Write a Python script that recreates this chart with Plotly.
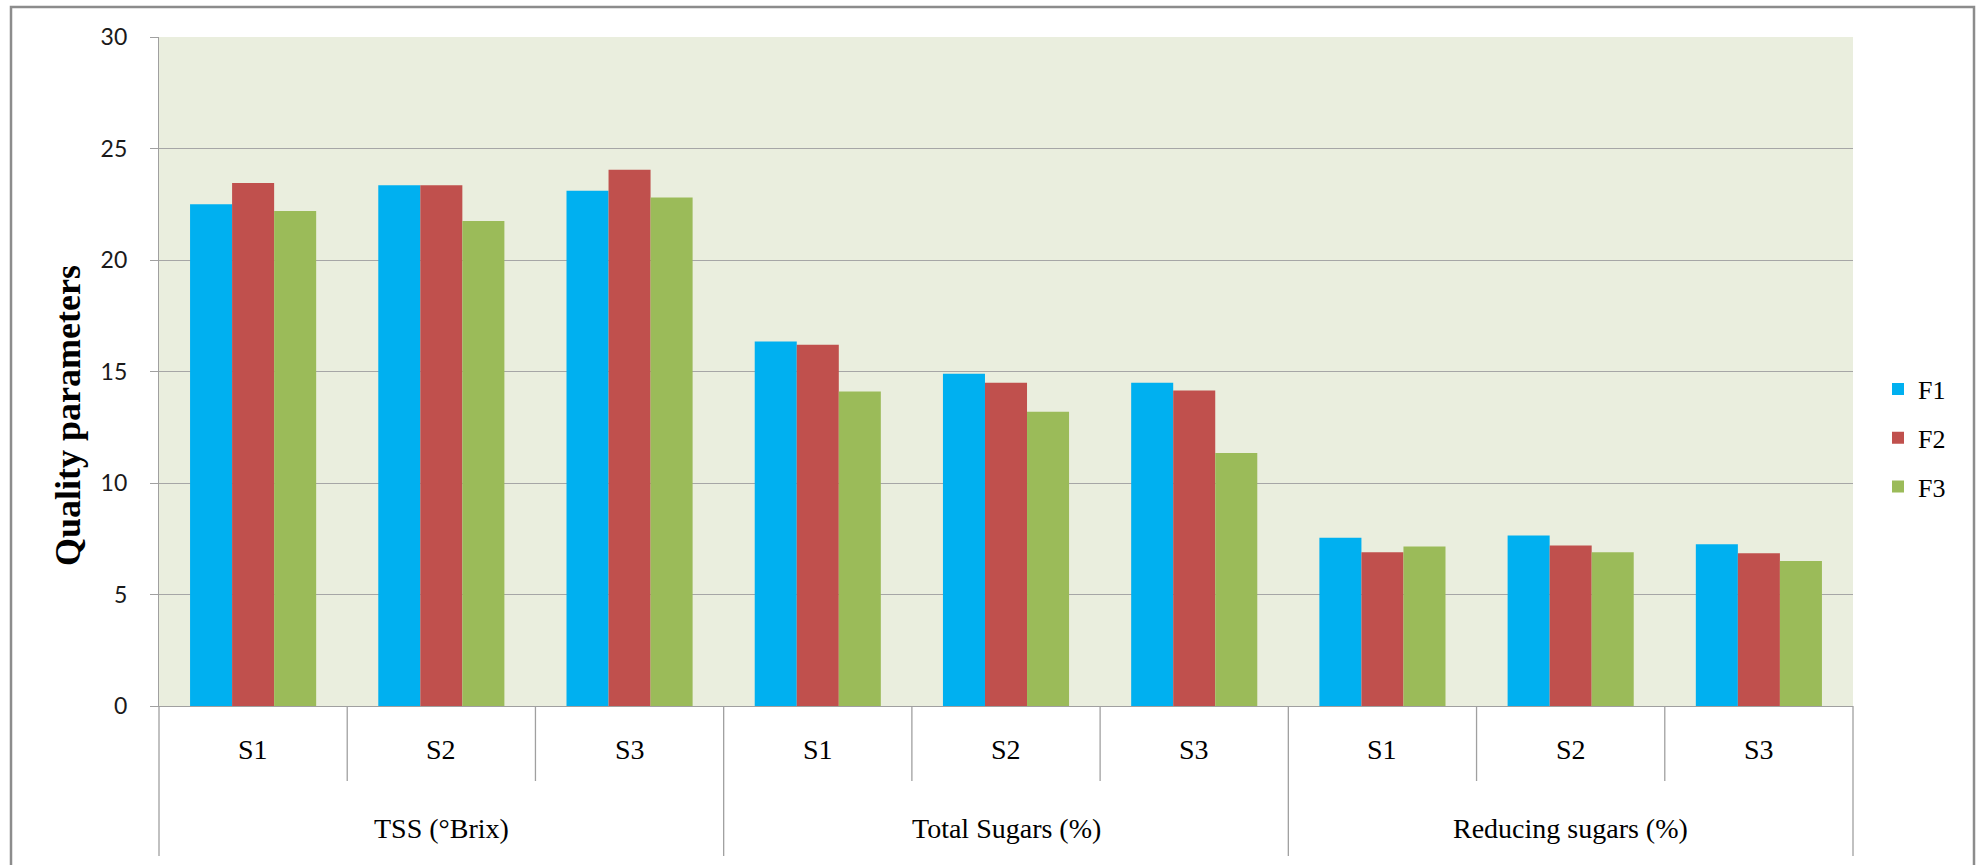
import plotly.graph_objects as go

# ---- data ----
parameters = ["TSS (°Brix)", "Total Sugars (%)", "Reducing sugars (%)"]
samples = ["S1", "S2", "S3"]
series_names = ["F1", "F2", "F3"]
F1 = [22.5, 23.35, 23.1, 16.35, 14.9, 14.5, 7.55, 7.65, 7.25]
F2 = [23.45, 23.35, 24.05, 16.2, 14.5, 14.15, 6.9, 7.2, 6.85]
F3 = [22.2, 21.75, 22.8, 14.1, 13.2, 11.35, 7.15, 6.9, 6.5]
y_ticks = [0, 5, 10, 15, 20, 25, 30]

# ---- styling ----
COLORS = ["#00B0F0", "#C0504D", "#9BBB59"]
PLOT_BG = "#EAEEDE"
GRID = "#A6A6A6"
AXIS = "#A0A0A0"
SERIF = "Liberation Serif, Times New Roman, serif"
SANS = "Lato, Calibri, sans-serif"

W, H = 1982, 865
PLOT_L, PLOT_R, PLOT_T, PLOT_B = 159, 1853, 37, 706


def px_x(px):
    return (px - PLOT_L) / (PLOT_R - PLOT_L)


def px_y(py):
    return (PLOT_B - py) / (PLOT_B - PLOT_T)


outer = [p for p in parameters for _ in samples]
inner = [s for _ in parameters for s in samples]
n_cat = len(outer)

fig = go.Figure()
for name, vals, col in zip(series_names, [F1, F2, F3], COLORS):
    fig.add_trace(go.Bar(
        x=[outer, inner], y=vals, name=name,
        marker=dict(color=col, line=dict(width=0)),
        legendgroup=name,
    ))

shapes = []
annotations = []

# category axis: dividers between samples and longer ones between parameters
for i in range(n_cat + 1):
    long_line = (i % len(samples) == 0)
    shapes.append(dict(
        type="line", xref="paper", yref="paper",
        x0=i / n_cat, x1=i / n_cat,
        y0=0, y1=px_y(856 if long_line else 781),
        line=dict(color=AXIS, width=1.3),
    ))

# sample labels
for i, s in enumerate(inner):
    annotations.append(dict(
        x=(i + 0.5) / n_cat, y=px_y(749), xref="paper", yref="paper",
        text=s, showarrow=False, xanchor="center", yanchor="middle",
        font=dict(family=SERIF, size=28, color="#000000"),
    ))

# parameter labels
for j, p in enumerate(parameters):
    annotations.append(dict(
        x=(j + 0.5) * len(samples) / n_cat, y=px_y(828), xref="paper", yref="paper",
        text=p, showarrow=False, xanchor="center", yanchor="middle",
        font=dict(family=SERIF, size=28, color="#000000"),
    ))

# y-axis title
annotations.append(dict(
    x=px_x(68), y=px_y(416), xref="paper", yref="paper",
    text="<b>Quality parameters</b>", showarrow=False, textangle=-90,
    xanchor="center", yanchor="middle",
    font=dict(family=SERIF, size=36, color="#000000"),
))

# chart frame
shapes.append(dict(
    type="rect", xref="paper", yref="paper",
    x0=px_x(11), x1=px_x(1974), y0=px_y(872), y1=px_y(7),
    line=dict(color="#8C8C8C", width=2.5), fillcolor="rgba(0,0,0,0)",
    layer="above",
))

fig.update_layout(
    width=W, height=H,
    margin=dict(l=PLOT_L, r=W - PLOT_R, t=PLOT_T, b=H - PLOT_B, pad=0),
    paper_bgcolor="white",
    plot_bgcolor=PLOT_BG,
    barmode="group",
    bargap=0.33,
    bargroupgap=0,
    showlegend=True,
    legend=dict(
        x=px_x(1878), y=px_y(438), xanchor="left", yanchor="middle",
        font=dict(family=SERIF, size=26, color="#000000"),
        tracegroupgap=12, bgcolor="rgba(0,0,0,0)",
    ),
    shapes=shapes,
    annotations=annotations,
    xaxis=dict(
        type="multicategory",
        showticklabels=False, ticks="",
        showgrid=False, showdividers=False,
        showline=True, linecolor=AXIS, linewidth=1.3,
        zeroline=False,
    ),
    yaxis=dict(
        range=[0, 30], tickvals=y_ticks,
        ticks="outside", ticklen=8, tickcolor=AXIS, tickwidth=1.3,
        showgrid=True, gridcolor=GRID, gridwidth=1.3,
        showline=True, linecolor=AXIS, linewidth=1.3,
        zeroline=False,
        tickfont=dict(family=SANS, size=23, color="#1A1A1A"),
        ticklabelstandoff=18,
    ),
)

fig.write_html("out.html")
